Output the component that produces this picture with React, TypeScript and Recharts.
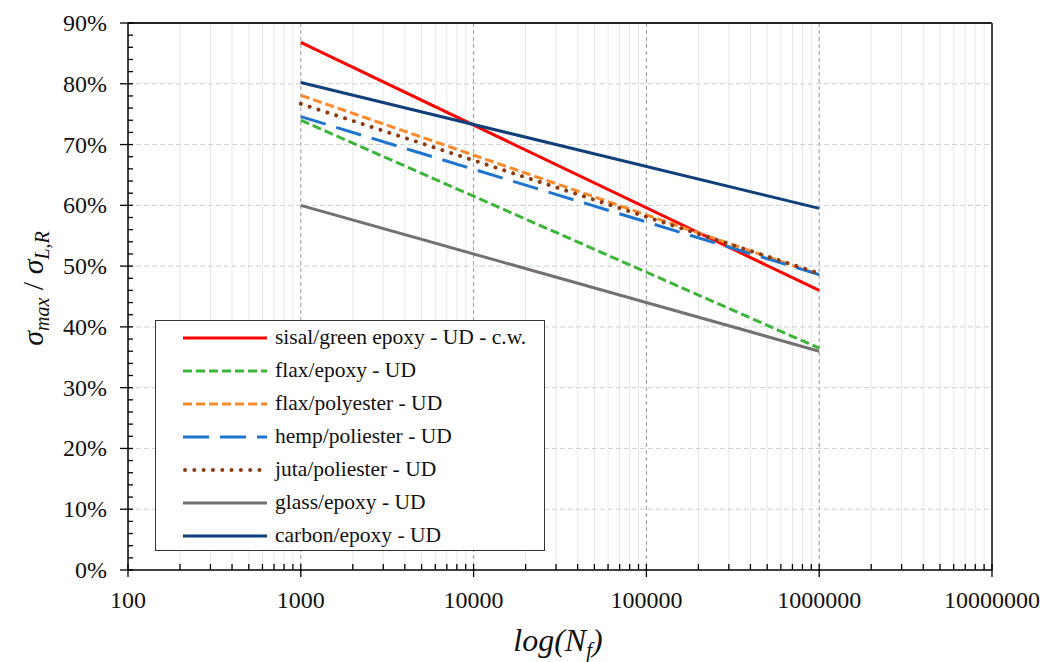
import * as React from 'react';
import {
  LineChart,
  Line,
  XAxis,
  YAxis,
  CartesianGrid,
  ReferenceLine,
  Legend
} from 'recharts';

// cycles to failure (only the two ends are plotted, lines are straight in log space)
const cycles = [1000, 1000000];

// sigma_max / sigma_L,R in %
const sisalGreenEpoxy = [86.8, 46.0];
const flaxEpoxy = [74.0, 36.5];
const flaxPolyester = [78.1, 48.6];
const hempPoliester = [74.6, 48.6];
const jutaPoliester = [76.7, 48.8];
const glassEpoxy = [60.0, 36.0];
const carbonEpoxy = [80.2, 59.5];

const seriesNames = [
  'sisal/green epoxy - UD - c.w.',
  'flax/epoxy - UD',
  'flax/polyester - UD',
  'hemp/poliester - UD',
  'juta/poliester - UD',
  'glass/epoxy - UD',
  'carbon/epoxy - UD'
];

const decadeTicks = [100, 1000, 10000, 100000, 1000000, 10000000];
const majorGridX = [1000, 10000, 100000, 1000000];
const minorSteps = [2, 3, 4, 5, 6, 7, 8, 9];
const minorXTicks = decadeTicks.slice(0, -1).flatMap((d) => minorSteps.map((m) => d * m));
const allXTicks = [...decadeTicks, ...minorXTicks].sort((a, b) => a - b);

const yMajorTicks = [0, 10, 20, 30, 40, 50, 60, 70, 80, 90];
const yGridValues = [10, 20, 30, 40, 50, 60, 70, 80];
const yAllTicks = Array.from({ length: 46 }, (_, i) => i * 2);

const FONT = '"Liberation Serif", "Times New Roman", serif';

const data = cycles.map((n, i) => ({
  n,
  sisal: sisalGreenEpoxy[i],
  flaxEpoxy: flaxEpoxy[i],
  flaxPoly: flaxPolyester[i],
  hemp: hempPoliester[i],
  juta: jutaPoliester[i],
  glass: glassEpoxy[i],
  carbon: carbonEpoxy[i]
}));

interface SeriesStyle {
  key: string;
  color: string;
  dash?: string;
  width: number;
  cap?: 'round' | 'butt';
}

const seriesStyles: SeriesStyle[] = [
  { key: 'sisal', color: '#ff0000', width: 3 },
  { key: 'flaxEpoxy', color: '#3db53a', dash: '9 4', width: 3 },
  { key: 'flaxPoly', color: '#fb8a2e', dash: '9 4', width: 3 },
  { key: 'hemp', color: '#1f74cf', dash: '26 11', width: 3 },
  { key: 'juta', color: '#8b3a12', dash: '0.01 9.3', width: 4, cap: 'round' },
  { key: 'glass', color: '#767171', width: 3 },
  { key: 'carbon', color: '#113f7c', width: 3 }
];

const XTick = (props: any) => {
  const { x, y, payload } = props;
  const major = decadeTicks.includes(payload.value);
  return (
    <g>
      <line x1={x} x2={x} y1={y - 6} y2={major ? y + 7 : y} stroke="#000" strokeWidth={1.3} />
      {major && (
        <text x={x} y={y + 38} textAnchor="middle" fontSize={24} fill="#111" fontFamily={FONT}>
          {payload.value}
        </text>
      )}
    </g>
  );
};

const YTick = (props: any) => {
  const { x, y, payload } = props;
  const major = yMajorTicks.includes(payload.value);
  return (
    <g>
      <line x1={major ? x - 8 : x} x2={x + 5} y1={y} y2={y} stroke="#000" strokeWidth={1.3} />
      {major && (
        <text x={x - 21} y={y + 8} textAnchor="end" fontSize={24} fill="#111" fontFamily={FONT}>
          {payload.value}%
        </text>
      )}
    </g>
  );
};

const YAxisTitle = (props: any) => {
  const vb = props.viewBox || { x: 0, y: 23, width: 128, height: 547 };
  const cx = vb.x + 43;
  const cy = vb.y + vb.height / 2 - 8;
  return (
    <text
      x={cx}
      y={cy}
      transform={`rotate(-90, ${cx}, ${cy})`}
      textAnchor="middle"
      fontFamily={FONT}
      fontSize={30}
      fill="#111"
    >
      <tspan fontStyle="italic">σ</tspan>
      <tspan fontStyle="italic" fontSize={20} dy={6}>max</tspan>
      <tspan dy={-6}> / </tspan>
      <tspan fontStyle="italic">σ</tspan>
      <tspan fontStyle="italic" fontSize={20} dy={6}>L,R</tspan>
    </text>
  );
};

const XAxisTitle = (props: any) => {
  const vb = props.viewBox || { x: 128, y: 570, width: 864, height: 60 };
  return (
    <text
      x={vb.x + vb.width / 2 - 2}
      y={vb.y + 81}
      textAnchor="middle"
      fontFamily={FONT}
      fontSize={32}
      fontStyle="italic"
      fill="#111"
    >
      log(N<tspan fontSize={21} dy={6}>f</tspan>
      <tspan dy={-6}>)</tspan>
    </text>
  );
};

const renderLegend = () => (
  <div
    style={{
      boxSizing: 'border-box',
      width: '100%',
      height: '100%',
      border: '1.5px solid #333',
      background: '#fff',
      paddingTop: 0,
      fontFamily: FONT
    }}
  >
    {seriesStyles.map((s, i) => (
      <div key={s.key} style={{ height: 33, display: 'flex', alignItems: 'center' }}>
        <svg width={84} height={10} style={{ marginLeft: 27, marginRight: 8, overflow: 'visible' }}>
          <line
            x1={s.cap === 'round' ? 2 : 0}
            x2={84}
            y1={5}
            y2={5}
            stroke={s.color}
            strokeWidth={s.width}
            strokeDasharray={s.dash}
            strokeLinecap={s.cap || 'butt'}
          />
        </svg>
        <span style={{ fontSize: 21.5, color: '#111', whiteSpace: 'nowrap' }}>{seriesNames[i]}</span>
      </div>
    ))}
  </div>
);

export default function App() {
  return (
    <div style={{ position: 'absolute', left: 0, top: 0, width: 1057, height: 662, background: '#fff' }}>
      <LineChart width={1057} height={662} data={data} margin={{ top: 23, right: 65, bottom: 32, left: 0 }}>
        <CartesianGrid horizontal={false} verticalValues={minorXTicks} stroke="#e8e8e8" strokeWidth={1} />
        <CartesianGrid horizontal={false} verticalValues={majorGridX} stroke="#9a9a9a" strokeDasharray="4 3" />
        <CartesianGrid vertical={false} horizontalValues={yGridValues} stroke="#cfcfcf" strokeDasharray="5 3" />
        <XAxis
          dataKey="n"
          type="number"
          scale="log"
          domain={[100, 10000000]}
          allowDataOverflow
          ticks={allXTicks}
          interval={0}
          tickSize={0}
          tickMargin={0}
          tickLine={false}
          tick={<XTick />}
          axisLine={{ stroke: '#000', strokeWidth: 1.5 }}
          height={60}
          label={<XAxisTitle />}
        />
        <YAxis
          type="number"
          domain={[0, 90]}
          allowDataOverflow
          ticks={yAllTicks.filter((v) => v <= 90)}
          interval={0}
          tickSize={0}
          tickMargin={0}
          tickLine={false}
          tick={<YTick />}
          axisLine={{ stroke: '#000', strokeWidth: 1.5 }}
          width={128}
          label={<YAxisTitle />}
        />
        <ReferenceLine y={90} stroke="#222" strokeWidth={2} />
        <ReferenceLine x={10000000} stroke="#444" strokeWidth={2} />
        {seriesStyles.map((s, i) => (
          <Line
            key={s.key}
            type="linear"
            dataKey={s.key}
            name={seriesNames[i]}
            stroke={s.color}
            strokeWidth={s.width}
            strokeDasharray={s.dash}
            strokeLinecap={s.cap || 'butt'}
            dot={false}
            activeDot={false}
            isAnimationActive={false}
          />
        ))}
        <Legend
          layout="vertical"
          align="center"
          verticalAlign="middle"
          content={renderLegend}
          wrapperStyle={{ left: 155, top: 320, width: 390, height: 231 }}
        />
      </LineChart>
    </div>
  );
}
